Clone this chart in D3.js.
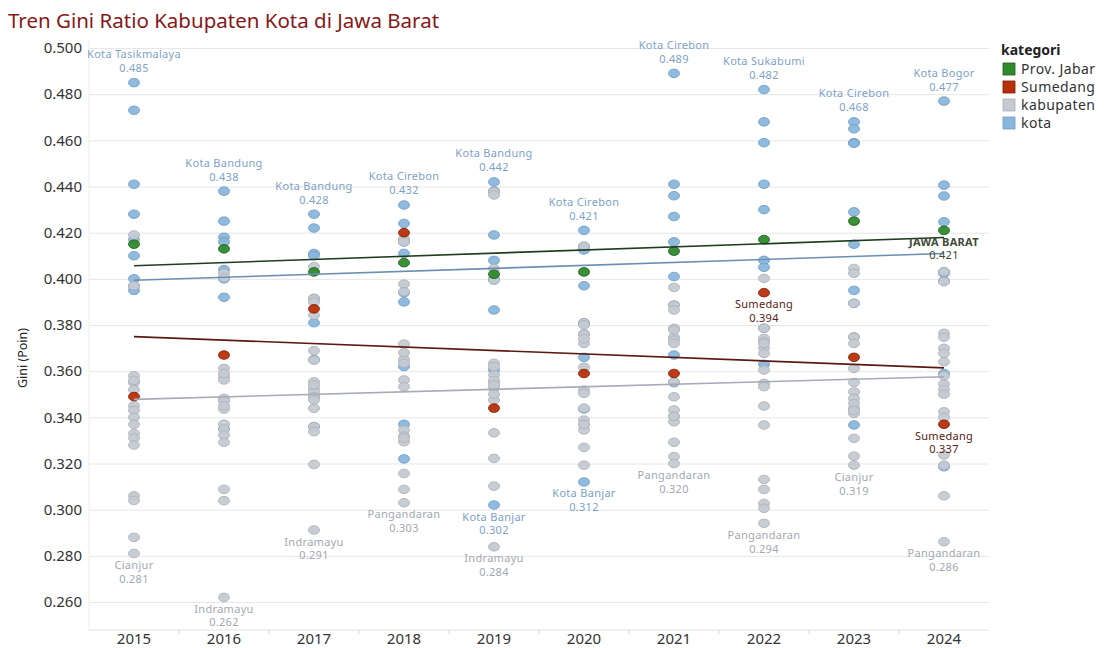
<!DOCTYPE html>
<html>
<head>
<meta charset="utf-8">
<script src="https://cdn.jsdelivr.net/npm/d3@7"></script>
<style>
  body { margin: 0; background: #fff; }
  text { font-family: "Noto Sans", "Open Sans", sans-serif; }
</style>
</head>
<body>
<div id="chart-area"></div>
<script>
let width = 1108,
height = 648;

const years = [2015, 2016, 2017, 2018, 2019, 2020, 2021, 2022, 2023, 2024];

// Gini per year (some points sit hidden under others)
const kotaByYear = [
  [0.485, 0.473, 0.441, 0.428, 0.417, 0.410, 0.400, 0.395, 0.397],
  [0.438, 0.425, 0.418, 0.416, 0.404, 0.392, 0.400, 0.4005, 0.335],
  [0.428, 0.422, 0.411, 0.410, 0.381, 0.365, 0.3915, 0.336, 0.349],
  [0.432, 0.424, 0.411, 0.390, 0.362, 0.337, 0.322, 0.416, 0.394],
  [0.442, 0.438, 0.419, 0.408, 0.3865, 0.3605, 0.302, 0.3995, 0.400],
  [0.421, 0.4125, 0.397, 0.366, 0.3436, 0.312, 0.414, 0.376, 0.381],
  [0.489, 0.441, 0.436, 0.427, 0.416, 0.401, 0.367, 0.355, 0.3886],
  [0.482, 0.468, 0.459, 0.441, 0.430, 0.408, 0.405, 0.363, 0.3786],
  [0.468, 0.465, 0.459, 0.4587, 0.429, 0.415, 0.395, 0.3367, 0.3894],
  [0.477, 0.4406, 0.4359, 0.4247, 0.4024, 0.359, 0.3186, 0.399, 0.4031]
];
const kabByYear = [
  [0.419, 0.397, 0.358, 0.355, 0.352, 0.345, 0.343, 0.340, 0.333, 0.331, 0.328, 0.306, 0.304, 0.288, 0.281, 0.356, 0.337],
  [0.4024, 0.4005, 0.3612, 0.3576, 0.3562, 0.3482, 0.347, 0.3436, 0.337, 0.3349, 0.3323, 0.3292, 0.3088, 0.3039, 0.262, 0.359, 0.345],
  [0.4053, 0.3915, 0.390, 0.3843, 0.3689, 0.3648, 0.3554, 0.3525, 0.351, 0.3489, 0.3475, 0.3439, 0.336, 0.3338, 0.3196, 0.2912, 0.354],
  [0.4175, 0.416, 0.3977, 0.3944, 0.3717, 0.3651, 0.3634, 0.3562, 0.3533, 0.3345, 0.3319, 0.3294, 0.3157, 0.3088, 0.303, 0.368, 0.331],
  [0.4377, 0.4363, 0.4045, 0.3995, 0.3634, 0.3583, 0.3554, 0.3525, 0.3475, 0.3333, 0.3222, 0.3102, 0.2839, 0.362, 0.356, 0.350, 0.354],
  [0.4142, 0.381, 0.3761, 0.376, 0.372, 0.3617, 0.3518, 0.3504, 0.3388, 0.3367, 0.3345, 0.327, 0.3193, 0.380, 0.374, 0.344, 0.337],
  [0.3963, 0.3886, 0.3865, 0.3786, 0.3747, 0.3778, 0.3735, 0.372, 0.3554, 0.3489, 0.3432, 0.3403, 0.3381, 0.3292, 0.323, 0.320, 0.3405],
  [0.4002, 0.3786, 0.3742, 0.3728, 0.3699, 0.3677, 0.3605, 0.3547, 0.3533, 0.3449, 0.3367, 0.3131, 0.3088, 0.3027, 0.3006, 0.2941, 0.372],
  [0.4045, 0.4024, 0.3894, 0.3749, 0.3747, 0.372, 0.3612, 0.3551, 0.351, 0.3482, 0.3439, 0.3417, 0.3309, 0.3232, 0.3193, 0.346, 0.343],
  [0.4031, 0.3988, 0.3764, 0.3747, 0.3699, 0.3677, 0.3641, 0.3544, 0.3424, 0.3237, 0.3193, 0.306, 0.2861, 0.358, 0.352, 0.350, 0.340]
];
const sumedang = [0.349, 0.367, 0.387, 0.420, 0.344, 0.359, 0.359, 0.394, 0.366, 0.337];
const provJabar = [0.415, 0.413, 0.403, 0.407, 0.402, 0.403, 0.412, 0.417, 0.425, 0.421];

// annotations: max per year above, min / highlighted below
const topLabels = [
  [2015, "Kota Tasikmalaya", 0.485], [2016, "Kota Bandung", 0.438], [2017, "Kota Bandung", 0.428],
  [2018, "Kota Cirebon", 0.432], [2019, "Kota Bandung", 0.442], [2020, "Kota Cirebon", 0.421],
  [2021, "Kota Cirebon", 0.489], [2022, "Kota Sukabumi", 0.482], [2023, "Kota Cirebon", 0.468],
  [2024, "Kota Bogor", 0.477]
];
const bottomLabels = [
  [2015, "Cianjur", 0.281, "kabupaten"], [2016, "Indramayu", 0.262, "kabupaten"],
  [2017, "Indramayu", 0.291, "kabupaten"], [2018, "Pangandaran", 0.303, "kabupaten"],
  [2019, "Kota Banjar", 0.302, "kota"], [2019, "Indramayu", 0.284, "kabupaten"],
  [2020, "Kota Banjar", 0.312, "kota"], [2021, "Pangandaran", 0.320, "kabupaten"],
  [2022, "Pangandaran", 0.294, "kabupaten"], [2023, "Cianjur", 0.319, "kabupaten"],
  [2024, "Pangandaran", 0.286, "kabupaten"],
  [2022, "Sumedang", 0.394, "Sumedang"], [2024, "Sumedang", 0.337, "Sumedang"],
  [2024, "JAWA BARAT", 0.421, "Prov. Jabar"]
];

const categories = ["Prov. Jabar", "Sumedang", "kabupaten", "kota"];
const fills = {"Prov. Jabar": "#2f8a2c", "Sumedang": "#b8300a", "kabupaten": "#c5cad2", "kota": "#8ab6dc"};
const strokes = {"Prov. Jabar": "#1c5a1a", "Sumedang": "#7a1d05", "kabupaten": "#a9aeb7", "kota": "#6f9cc4"};
const trendColors = {"Prov. Jabar": "#1e3d1c", "Sumedang": "#5a1a12", "kabupaten": "#a6abb6", "kota": "#6a8fb2"};
const labelColors = {"Prov. Jabar": "#3e4a3a", "Sumedang": "#5a1a12", "kabupaten": "#a3a8b0", "kota": "#7ea2c6"};

const svg = d3.select("#chart-area")
  .append("svg")
  .attr("width", width)
  .attr("height", height);

let x = d3.scaleBand().domain(years).range([89, 989]);
let cx = yr => x(yr) + x.bandwidth() / 2;
let y = d3.scaleLinear().domain([0.26, 0.5]).range([602, 48]);

// title
svg.append("text")
  .attr("x", 8).attr("y", 28)
  .attr("font-size", 20.5)
  .attr("fill", "#861818")
  .text("Tren Gini Ratio Kabupaten Kota di Jawa Barat");

// grid + y axis
svg.append("g")
  .attr("transform", "translate(89,0)")
  .call(d3.axisLeft(y).tickValues(d3.range(0.26, 0.5001, 0.02)).tickFormat(d3.format(".3f")).tickSize(0).tickPadding(7))
  .call(g => g.select(".domain").remove())
  .call(g => g.selectAll(".tick text").attr("font-size", 15).attr("fill", "#333"))
  .call(g => g.selectAll(".tick line").clone()
      .attr("x2", 900)
      .attr("stroke", "#e6e6e6"));

svg.append("line").attr("x1", 89).attr("x2", 89).attr("y1", 40).attr("y2", 630).attr("stroke", "#ececec");
svg.append("line").attr("x1", 89).attr("x2", 989).attr("y1", 630).attr("y2", 630).attr("stroke", "#e2e2e2");

// x axis
svg.append("g")
  .attr("transform", "translate(0,629)")
  .call(d3.axisBottom(x).tickSize(0).tickPadding(4))
  .call(g => g.select(".domain").remove())
  .call(g => g.selectAll(".tick text").attr("font-size", 15).attr("fill", "#333"));

svg.append("g").selectAll("line")
  .data(years.slice(1))
  .join("line")
  .attr("x1", d => x(d)).attr("x2", d => x(d))
  .attr("y1", 630).attr("y2", 634)
  .attr("stroke", "#d8d8d8");

svg.append("text")
  .attr("transform", "translate(27,358) rotate(-90)")
  .attr("text-anchor", "middle")
  .attr("font-size", 12.5)
  .attr("fill", "#222")
  .text("Gini (Poin)");

// points
let points = [];
years.forEach((yr, i) => {
  kotaByYear[i].forEach(v => points.push({year: yr, value: v, cat: "kota"}));
});
years.forEach((yr, i) => {
  kabByYear[i].forEach(v => points.push({year: yr, value: v, cat: "kabupaten"}));
});
years.forEach((yr, i) => points.push({year: yr, value: sumedang[i], cat: "Sumedang"}));
years.forEach((yr, i) => points.push({year: yr, value: provJabar[i], cat: "Prov. Jabar"}));

svg.append("g").selectAll("ellipse")
  .data(points)
  .join("ellipse")
  .attr("cx", d => cx(d.year))
  .attr("cy", d => y(d.value))
  .attr("rx", 5.5).attr("ry", 4.3)
  .attr("fill", d => fills[d.cat])
  .attr("stroke", d => strokes[d.cat])
  .attr("stroke-width", 0.8)
  .attr("fill-opacity", 0.95);

// linear trend per category
function trend(pts) {
  let mx = d3.mean(pts, d => d.year), my = d3.mean(pts, d => d.value);
  let sxy = d3.sum(pts, d => (d.year - mx) * (d.value - my));
  let sxx = d3.sum(pts, d => (d.year - mx) ** 2);
  let b = sxy / sxx;
  return yr => my + b * (yr - mx);
}
const line = d3.line().x(d => cx(d[0])).y(d => y(d[1]));
["kabupaten", "kota", "Sumedang", "Prov. Jabar"].forEach(cat => {
  const f = trend(points.filter(p => p.cat === cat));
  const ends = [years[0], years[years.length - 1]].map(yr => [yr, f(yr)]);
  svg.append("path")
    .attr("d", line(ends))
    .attr("fill", "none")
    .attr("stroke", trendColors[cat])
    .attr("stroke-width", 1.6);
});

// labels
const lab = svg.append("g").attr("text-anchor", "middle").attr("font-size", 11).attr("letter-spacing", 0.3);
topLabels.forEach(([yr, name, v]) => {
  lab.append("text").attr("x", cx(yr)).attr("y", y(v) - 24.5).attr("fill", labelColors.kota).text(name);
  lab.append("text").attr("x", cx(yr)).attr("y", y(v) - 10.5).attr("fill", labelColors.kota).text(d3.format(".3f")(v));
});
bottomLabels.forEach(([yr, name, v, kind]) => {
  lab.append("text").attr("x", cx(yr)).attr("y", y(v) + 15.5).attr("fill", labelColors[kind])
    .attr("font-weight", kind === "Prov. Jabar" ? "bold" : null).text(name);
  lab.append("text").attr("x", cx(yr)).attr("y", y(v) + 29).attr("fill", labelColors[kind])
    .text(d3.format(".3f")(v));
});

// legend
const legend = svg.append("g").attr("transform", "translate(1002,0)");
legend.append("text").attr("x", -1).attr("y", 55).attr("font-size", 14).attr("font-weight", "bold").attr("fill", "#222").text("kategori");
categories.forEach((c, i) => {
  legend.append("rect").attr("x", 1).attr("y", 63 + i * 18).attr("width", 12).attr("height", 12)
    .attr("fill", fills[c]).attr("stroke", strokes[c]).attr("stroke-width", 0.8);
  legend.append("text").attr("x", 19).attr("y", 74 + i * 18).attr("font-size", 14)
    .attr("letter-spacing", 0.4).attr("fill", "#333").text(c);
});
</script>
</body>
</html>
